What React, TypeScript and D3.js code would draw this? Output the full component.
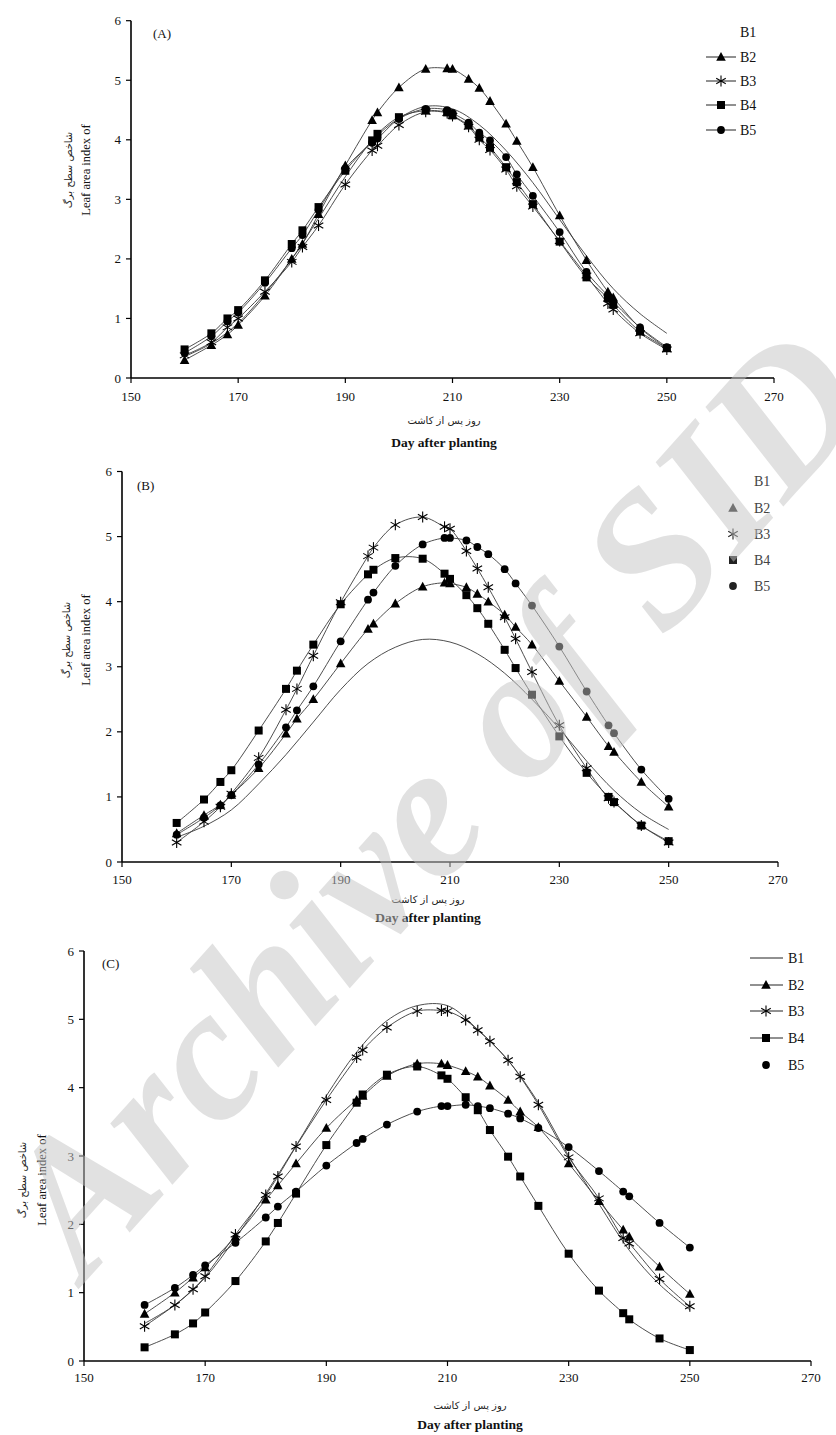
import React from 'react';
import * as d3 from 'd3';

// ---------- DATA ----------
const DAYS = [160,165,168,170,175,180,182,185,190,195,196,200,205,209,210,213,215,217,220,222,225,230,235,239,240,245,250];
const B1_DAYS = [160,165,170,175,180,185,190,195,200,205,210,215,220,225,230,235,240,245,250];

const X_TICKS = [150,170,190,210,230,250,270];
const Y_TICKS = [0,1,2,3,4,5,6];
const SERIES_NAMES = ['B1','B2','B3','B4','B5'];

// Panel A
const A_B1 = [0.36,0.58,0.92,1.42,2.0,2.68,3.38,3.98,4.36,4.56,4.52,4.25,3.82,3.28,2.66,2.05,1.5,1.08,0.75];
const A_B2 = [0.3,0.55,0.73,0.89,1.38,2.0,2.25,2.75,3.57,4.33,4.46,4.88,5.19,5.2,5.19,5.02,4.87,4.65,4.27,3.98,3.54,2.73,1.98,1.45,1.35,0.84,0.5];
const A_B3 = [0.38,0.6,0.85,1.0,1.45,1.95,2.2,2.56,3.25,3.82,3.9,4.25,4.47,4.45,4.4,4.22,4.0,3.83,3.5,3.22,2.88,2.3,1.72,1.25,1.15,0.75,0.48];
const A_B4 = [0.48,0.75,1.0,1.14,1.64,2.25,2.48,2.87,3.48,3.99,4.1,4.38,4.49,4.46,4.41,4.24,4.04,3.87,3.54,3.29,2.92,2.29,1.69,1.34,1.23,0.78,0.5];
const A_B5 = [0.42,0.7,0.95,1.1,1.6,2.18,2.4,2.82,3.52,3.95,4.02,4.35,4.52,4.5,4.45,4.29,4.12,3.99,3.71,3.42,3.06,2.45,1.78,1.38,1.28,0.85,0.52];

// Panel B
const B_B1 = [0.38,0.55,0.8,1.2,1.65,2.15,2.65,3.05,3.3,3.42,3.38,3.2,2.9,2.5,2.05,1.55,1.1,0.75,0.5];
const B_B2 = [0.44,0.72,0.88,1.03,1.44,1.97,2.2,2.5,3.05,3.58,3.66,3.97,4.23,4.29,4.28,4.22,4.12,4.0,3.8,3.61,3.34,2.78,2.23,1.78,1.69,1.23,0.85];
const B_B3 = [0.3,0.62,0.85,1.05,1.6,2.34,2.66,3.17,3.99,4.7,4.83,5.18,5.3,5.15,5.12,4.78,4.51,4.22,3.76,3.43,2.92,2.1,1.44,0.98,0.92,0.56,0.3];
const B_B4 = [0.6,0.96,1.23,1.41,2.02,2.66,2.94,3.34,3.96,4.42,4.49,4.67,4.66,4.43,4.35,4.1,3.9,3.66,3.26,2.98,2.57,1.93,1.37,1.0,0.92,0.56,0.32];
const B_B5 = [0.42,0.68,0.87,1.03,1.5,2.07,2.33,2.7,3.39,4.03,4.14,4.55,4.88,4.98,4.98,4.94,4.84,4.73,4.5,4.28,3.94,3.31,2.62,2.1,1.98,1.42,0.97];

// Panel C
const C_B1 = [0.55,0.82,1.22,1.8,2.45,3.15,3.88,4.52,4.98,5.2,5.2,4.85,4.4,3.78,3.0,2.3,1.62,1.12,0.75];
const C_B2 = [0.69,1.0,1.22,1.37,1.82,2.36,2.57,2.89,3.41,3.82,3.88,4.17,4.35,4.35,4.33,4.24,4.16,4.03,3.82,3.65,3.42,2.89,2.34,1.92,1.82,1.38,0.98];
const C_B3 = [0.51,0.82,1.05,1.24,1.85,2.43,2.7,3.14,3.82,4.44,4.55,4.88,5.12,5.13,5.12,4.99,4.84,4.68,4.4,4.16,3.75,2.98,2.38,1.8,1.72,1.2,0.8];
const C_B4 = [0.2,0.39,0.55,0.71,1.17,1.75,2.02,2.45,3.16,3.78,3.9,4.19,4.31,4.18,4.13,3.86,3.67,3.38,2.99,2.7,2.27,1.57,1.03,0.7,0.61,0.33,0.16];
const C_B5 = [0.82,1.07,1.26,1.4,1.73,2.1,2.26,2.48,2.86,3.19,3.25,3.46,3.65,3.73,3.73,3.75,3.73,3.7,3.62,3.55,3.41,3.13,2.78,2.48,2.41,2.02,1.66];

const PERSIAN_X = 'روز پس از کاشت';
const PERSIAN_Y = 'شاخص سطح برگ';
const EN_X = 'Day after planting';
const EN_Y = 'Leaf area index of';
const WATERMARK = 'Archive of SID';

// ---------- LAYOUT ----------
const SERIF = '"Liberation Serif", "Times New Roman", serif';
const ARABIC = '"DejaVu Sans", sans-serif';
const MARKERS = ['none', 'triangle', 'asterisk', 'square', 'circle'];

type Panel = {
  tag: string; x0: number; x1: number; y0: number; y1: number;
  tagX: number; tagY: number;
  data: number[][];
  yTitleX: [number, number]; yTitleCy: number;
  xTitleCx: number; tickDy: number; perDy: number; dayDy: number;
  legend: { kind: 'A' | 'B' | 'C'; rows: number[]; lx0: number; lx1: number; mx: number; tx: number };
};

const PANELS: Panel[] = [
  {
    tag: '(A)', x0: 131, x1: 774, y0: 378, y1: 20.7, tagX: 153, tagY: 38,
    data: [A_B1, A_B2, A_B3, A_B4, A_B5],
    yTitleX: [72, 90], yTitleCy: 170, xTitleCx: 444, tickDy: 23, perDy: 46, dayDy: 69,
    legend: { kind: 'A', rows: [32, 57, 81, 105, 130], lx0: 706, lx1: 736, mx: 721, tx: 740 },
  },
  {
    tag: '(B)', x0: 122, x1: 778, y0: 862, y1: 471.5, tagX: 137, tagY: 490,
    data: [B_B1, B_B2, B_B3, B_B4, B_B5],
    yTitleX: [70, 90], yTitleCy: 640, xTitleCx: 428, tickDy: 22, perDy: 41, dayDy: 60,
    legend: { kind: 'B', rows: [481, 508, 534, 560, 586], lx0: 0, lx1: 0, mx: 733, tx: 754 },
  },
  {
    tag: '(C)', x0: 84, x1: 811, y0: 1361, y1: 951, tagX: 102, tagY: 968,
    data: [C_B1, C_B2, C_B3, C_B4, C_B5],
    yTitleX: [26, 46], yTitleCy: 1180, xTitleCx: 470, tickDy: 21, perDy: 48, dayDy: 68,
    legend: { kind: 'C', rows: [958, 985, 1011, 1038, 1065], lx0: 750, lx1: 783, mx: 766, tx: 788 },
  },
];

function Marker({ type, x, y, fill = '#000', s = 1 }: { type: string; x: number; y: number; fill?: string; s?: number }) {
  if (type === 'triangle') {
    const p = `M${x},${y - 5 * s}L${x + 4.8 * s},${y + 3.8 * s}L${x - 4.8 * s},${y + 3.8 * s}Z`;
    return <path d={p} fill={fill} />;
  }
  if (type === 'square') {
    return <rect x={x - 4 * s} y={y - 4 * s} width={8 * s} height={8 * s} fill={fill} />;
  }
  if (type === 'circle') {
    return <circle cx={x} cy={y} r={3.9 * s} fill={fill} />;
  }
  if (type === 'asterisk') {
    const r = 5.5 * s;
    const a = Math.cos(Math.PI / 6) * r;
    const b = Math.sin(Math.PI / 6) * r;
    return (
      <g stroke={fill} strokeWidth={1.1}>
        <line x1={x} y1={y - r} x2={x} y2={y + r} />
        <line x1={x - a} y1={y - b} x2={x + a} y2={y + b} />
        <line x1={x - a} y1={y + b} x2={x + a} y2={y - b} />
      </g>
    );
  }
  return null;
}

function PanelView({ p }: { p: Panel }) {
  const x = d3.scaleLinear().domain([150, 270]).range([p.x0, p.x1]);
  const y = d3.scaleLinear().domain([0, 6]).range([p.y0, p.y1]);
  const line = d3.line<[number, number]>()
    .x(d => x(d[0]))
    .y(d => y(d[1]))
    .curve(d3.curveCatmullRom.alpha(0.5));

  const series = p.data.map((vals, i) => {
    const days = i === 0 ? B1_DAYS : DAYS;
    return days.map((d, j) => [d, vals[j]] as [number, number]);
  });

  const lg = p.legend;
  return (
    <g>
      {series.map((pts, i) => (
        <path key={'l' + i} d={line(pts) || ''} fill="none" stroke="#3a3a3a" strokeWidth={0.9} />
      ))}
      {series.map((pts, i) =>
        i === 0 ? null : pts.map((pt, j) => (
          <Marker key={`m${i}-${j}`} type={MARKERS[i]} x={x(pt[0])} y={y(pt[1])} />
        ))
      )}
      <line x1={p.x0} y1={p.y0} x2={p.x1} y2={p.y0} stroke="#000" strokeWidth={1.6} />
      <line x1={p.x0} y1={p.y0} x2={p.x0} y2={p.y1} stroke="#000" strokeWidth={1.6} />
      {Y_TICKS.map(t => (
        <g key={'yt' + t}>
          <line x1={p.x0 - 5} x2={p.x0} y1={y(t)} y2={y(t)} stroke="#000" strokeWidth={1.2} />
          <text x={p.x0 - 10} y={y(t) + 4.5} textAnchor="end" fontFamily={SERIF} fontSize={13} fill="#111">{t}</text>
        </g>
      ))}
      {X_TICKS.map(t => (
        <g key={'xt' + t}>
          <line x1={x(t)} x2={x(t)} y1={p.y0} y2={p.y0 + 5} stroke="#000" strokeWidth={1.2} />
          <text x={x(t)} y={p.y0 + p.tickDy} textAnchor="middle" fontFamily={SERIF} fontSize={13} fill="#111">{t}</text>
        </g>
      ))}
      <text x={p.tagX} y={p.tagY} fontFamily={SERIF} fontSize={13} fill="#111">{p.tag}</text>
      <text x={p.xTitleCx} y={p.y0 + p.perDy} textAnchor="middle" fontFamily={ARABIC} fontSize={10} fill="#222">{PERSIAN_X}</text>
      <text x={p.xTitleCx} y={p.y0 + p.dayDy} textAnchor="middle" fontFamily={SERIF} fontSize={13.5} fontWeight="bold" fill="#111">{EN_X}</text>
      <text transform={`translate(${p.yTitleX[0]},${p.yTitleCy}) rotate(-90)`} textAnchor="middle" fontFamily={ARABIC} fontSize={10} fill="#222">{PERSIAN_Y}</text>
      <text transform={`translate(${p.yTitleX[1]},${p.yTitleCy}) rotate(-90)`} textAnchor="middle" fontFamily={SERIF} fontSize={12.5} fill="#111">{EN_Y}</text>
      {SERIES_NAMES.map((name, i) => {
        const ry = lg.rows[i];
        const grey = lg.kind === 'B' ? '#444' : '#111';
        return (
          <g key={'lg' + i}>
            {lg.kind !== 'B' && !(lg.kind === 'C' && i === 4) && !(lg.kind === 'A' && i === 0) && (
              <line x1={lg.lx0} x2={lg.lx1} y1={ry} y2={ry} stroke="#222" strokeWidth={1} />
            )}
            {i > 0 && <Marker type={MARKERS[i]} x={lg.mx} y={ry} fill={lg.kind === 'B' ? '#222' : '#000'} />}
            <text x={lg.tx} y={ry + 4.5} fontFamily={SERIF} fontSize={14} fill={grey}>{name}</text>
          </g>
        );
      })}
    </g>
  );
}

export default function App() {
  return (
    <svg width={836} height={1435} style={{ position: 'absolute', left: 0, top: 0, background: '#fff' }}>
      <rect width={836} height={1435} fill="#fff" />
      {PANELS.map(p => <PanelView key={p.tag} p={p} />)}
      <text
        transform="translate(85,1282) rotate(-48)"
        fontFamily={SERIF}
        fontStyle="italic"
        fontWeight="bold"
        fontSize={190}
        fill="#c4c4c4"
        opacity={0.5}
      >{WATERMARK}</text>
    </svg>
  );
}
